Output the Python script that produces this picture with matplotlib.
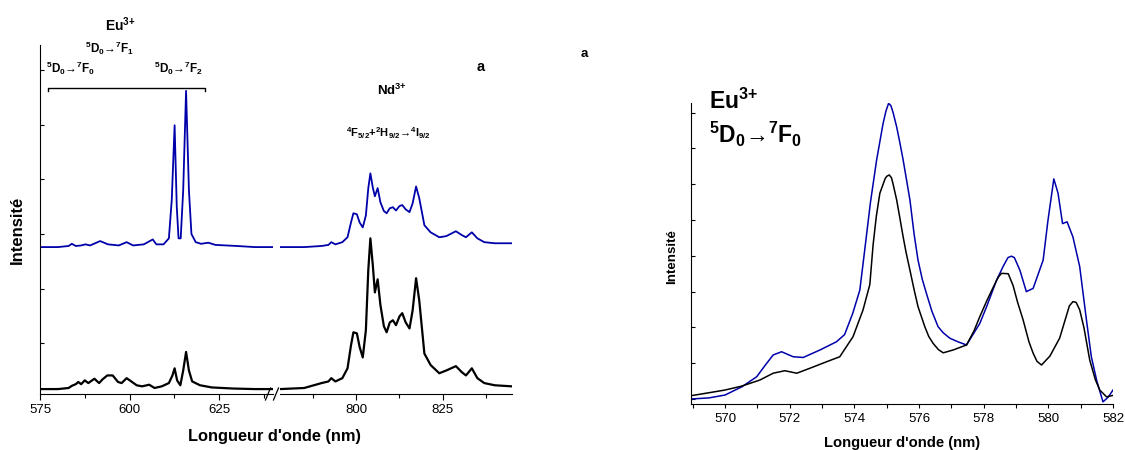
import numpy as np
import matplotlib
matplotlib.use("Agg")
import matplotlib.pyplot as plt
from matplotlib.ticker import MultipleLocator, NullFormatter

plt.rcParams['font.family'] = ['Liberation Sans', 'DejaVu Sans']
plt.rcParams['mathtext.default'] = 'regular'

BLUE = '#0000aa'

# --- panel 1: Eu region (575-640 nm) ---
eu_wl = [575, 580, 583, 583.9, 585, 585.7, 586.5, 587.5, 588.5, 590.2, 591.5, 592.5,
         593.8, 595.3, 596.8, 597.8, 599.2, 600.5, 602, 603.5, 605.5, 607, 609, 611,
         612, 612.6, 613.3, 614.2, 615, 615.8, 616.6, 617.5, 619.7, 623, 629, 635, 640]
eu_black = [0.16, 0.16, 0.18, 0.22, 0.25, 0.29, 0.25, 0.32, 0.27, 0.35, 0.27, 0.34,
            0.41, 0.41, 0.29, 0.27, 0.36, 0.30, 0.23, 0.21, 0.24, 0.18, 0.21, 0.27,
            0.41, 0.54, 0.32, 0.23, 0.50, 0.84, 0.50, 0.30, 0.23, 0.19, 0.17, 0.16, 0.16]

eu_wl_b = [575, 580, 583, 583.9, 585, 586.5, 587.7, 589, 591.8, 594, 597, 599.2, 601,
           604, 606.5, 607.5, 609.5, 611, 611.8, 612.6, 613.2, 613.7, 614.3, 615.0,
           615.8, 616.6, 617.3, 618.5, 620, 622, 624, 627, 630, 635, 640]
eu_blue = [2.76, 2.76, 2.78, 2.82, 2.78, 2.79, 2.81, 2.79, 2.87, 2.81, 2.79, 2.85, 2.79,
           2.81, 2.90, 2.81, 2.81, 2.92, 3.62, 4.99, 3.50, 2.92, 2.92, 3.80,
           5.62, 3.80, 3.00, 2.85, 2.82, 2.84, 2.80, 2.79, 2.78, 2.76, 2.76]

# --- panel 1: Nd region (778-845 nm) ---
nd_wl = [778, 785, 790, 792, 792.8, 794, 796, 797.5, 798.5, 799.2, 800.2, 801, 801.9,
         802.8, 803.5, 804.1, 804.8, 805.4, 806.2, 807, 808, 808.8, 809.7, 810.6,
         811.5, 812.5, 813.3, 814.3, 815.4, 816.3, 817.3, 818.2, 819.7, 821.5, 824,
         826, 828.8, 830.5, 831.7, 833.4, 835, 837, 840, 845]
nd_black = [0.16, 0.18, 0.27, 0.30, 0.36, 0.30, 0.36, 0.54, 0.96, 1.20, 1.18, 0.93, 0.74,
            1.24, 2.34, 2.92, 2.43, 1.93, 2.17, 1.70, 1.31, 1.20, 1.38, 1.42,
            1.33, 1.49, 1.55, 1.38, 1.27, 1.60, 2.19, 1.79, 0.81, 0.60, 0.45,
            0.50, 0.58, 0.47, 0.41, 0.54, 0.36, 0.27, 0.23, 0.21]
nd_blue = [2.76, 2.76, 2.78, 2.80, 2.85, 2.81, 2.85, 2.94, 3.21, 3.38, 3.36, 3.21, 3.12,
           3.34, 3.84, 4.11, 3.85, 3.69, 3.84, 3.58, 3.42, 3.38, 3.47, 3.49,
           3.43, 3.51, 3.53, 3.45, 3.40, 3.56, 3.87, 3.66, 3.16, 3.03, 2.94,
           2.96, 3.05, 2.98, 2.94, 3.03, 2.92, 2.85, 2.83, 2.83]

# --- panel 2: 5D0 -> 7F0 zoom ---
z_wl_b = [568.94, 569.5, 570.0, 570.52, 570.98, 571.25, 571.49, 571.75, 572.11, 572.42,
          572.94, 573.45, 573.7, 573.95, 574.17, 574.3, 574.5, 574.69, 574.89, 574.98,
          575.06, 575.13, 575.2, 575.31, 575.4, 575.51, 575.6, 575.72, 575.85, 575.97,
          576.1, 576.23, 576.4, 576.59, 576.75, 576.95, 577.2, 577.47, 577.88, 578.1,
          578.4, 578.6, 578.75, 578.86, 578.95, 579.12, 579.32, 579.53, 579.84, 579.99,
          580.17, 580.3, 580.44, 580.58, 580.76, 580.97, 581.18, 581.33, 581.5, 581.69,
          581.85, 582.0]
z_blue = [0.0, 0.03, 0.11, 0.34, 0.62, 0.95, 1.23, 1.32, 1.18, 1.16,
          1.37, 1.6, 1.8, 2.39, 3.04, 4.0, 5.5, 6.68, 7.7, 8.05,
          8.26, 8.2, 8.0, 7.6, 7.2, 6.68, 6.2, 5.56, 4.6, 3.88,
          3.35, 2.95, 2.45, 2.02, 1.85, 1.7, 1.6, 1.51, 2.11, 2.6,
          3.32, 3.7, 3.95, 3.99, 3.95, 3.6, 3.0, 3.09, 3.88, 5.0,
          6.15, 5.75, 4.9, 4.95, 4.53, 3.7, 2.2, 1.18, 0.5, -0.08,
          0.05, 0.25]
z_wl_k = [568.94, 569.54, 570.0, 570.52, 571.08, 571.49, 571.85, 572.22, 572.63, 573.14,
          573.55, 573.96, 574.27, 574.48, 574.58, 574.68, 574.79, 574.95, 575.0, 575.08,
          575.15, 575.2, 575.31, 575.4, 575.51, 575.6, 575.72, 575.85, 575.97, 576.18,
          576.3, 576.44, 576.6, 576.75, 577.06, 577.47, 577.7, 577.88, 578.1, 578.3,
          578.45, 578.55, 578.76, 578.91, 579.05, 579.22, 579.4, 579.53, 579.65, 579.79,
          580.05, 580.2, 580.35, 580.55, 580.65, 580.76, 580.86, 580.97, 581.1, 581.28,
          581.45, 581.59, 581.8, 582.0]
z_black = [0.09, 0.18, 0.25, 0.36, 0.53, 0.72, 0.79, 0.72, 0.86, 1.04,
           1.18, 1.74, 2.49, 3.2, 4.3, 5.1, 5.75, 6.15, 6.22, 6.26,
           6.18, 6.0, 5.56, 5.1, 4.53, 4.1, 3.6, 3.05, 2.58, 2.02,
           1.75, 1.55, 1.38, 1.29, 1.37, 1.51, 1.9, 2.3, 2.75, 3.13,
           3.4, 3.51, 3.5, 3.17, 2.7, 2.21, 1.6, 1.28, 1.05, 0.95,
           1.2, 1.45, 1.7, 2.3, 2.6, 2.72, 2.7, 2.49, 2.0, 1.09,
           0.55, 0.25, 0.06, 0.1]

fig = plt.figure(figsize=(11.25, 4.5), dpi=100)
W, H = 1125, 450


def px_axes(x0, y0, x1, y1):
    return fig.add_axes([x0 / W, 1 - y1 / H, (x1 - x0) / W, (y1 - y0) / H])


ax1 = px_axes(40, 45, 272.7, 394)
ax2 = px_axes(280, 45, 512, 394)
ax3 = px_axes(690.7, 103, 1113, 404)

ax1.plot(eu_wl, eu_black, color='black', lw=1.6)
ax1.plot(eu_wl_b, eu_blue, color=BLUE, lw=1.3)
ax2.plot(nd_wl, nd_black, color='black', lw=1.6)
ax2.plot(nd_wl, nd_blue, color=BLUE, lw=1.3)
ax3.plot(z_wl_b, z_blue, color=BLUE, lw=1.1)
ax3.plot(z_wl_k, z_black, color='black', lw=1.1)

ax1.set_xlim(575, 640)
ax2.set_xlim(778, 845)
for ax in (ax1, ax2):
    ax.set_ylim(0.07, 6.46)
    ax.xaxis.set_major_locator(MultipleLocator(25))
    ax.xaxis.set_minor_locator(MultipleLocator(12.5))
    ax.spines['top'].set_visible(False)
    ax.spines['right'].set_visible(False)
    ax.tick_params(axis='x', which='both', direction='out', labelsize=9.5, width=0.8)
    ax.tick_params(axis='x', which='major', length=4)
    ax.tick_params(axis='x', which='minor', length=3)
ax1.yaxis.set_major_locator(MultipleLocator(1))
ax1.yaxis.set_major_formatter(NullFormatter())
ax1.tick_params(axis='y', direction='in', length=3, width=0.8)
ax2.spines['left'].set_visible(False)
ax2.set_yticks([])

# break marks on the x axis
for xs in (265.5, 273.5):
    fig.add_artist(plt.Line2D([xs / W, (xs + 5) / W], [1 - 400 / H, 1 - 388 / H],
                              color='black', lw=0.9))

ax3.set_xlim(568.94, 582)
ax3.set_ylim(-0.14, 8.27)
ax3.xaxis.set_major_locator(MultipleLocator(2))
ax3.xaxis.set_minor_locator(MultipleLocator(1))
ax3.yaxis.set_major_locator(MultipleLocator(1))
ax3.yaxis.set_major_formatter(NullFormatter())
ax3.spines['top'].set_visible(False)
ax3.spines['right'].set_visible(False)
ax3.tick_params(axis='x', which='both', direction='out', labelsize=9.5, width=0.8, length=3)
ax3.tick_params(axis='y', direction='in', length=3, width=0.8)

# axis labels
fig.text(17 / W, 1 - 230 / H, 'Intensité', rotation=90, ha='center', va='center',
         fontsize=12, fontweight='bold')
fig.text(274 / W, 1 - 437 / H, "Longueur d'onde (nm)", ha='center', va='center',
         fontsize=11.8, fontweight='bold')
fig.text(672 / W, 1 - 257 / H, 'Intensité', rotation=90, ha='center', va='center',
         fontsize=9.6, fontweight='bold')
fig.text(902 / W, 1 - 443 / H, "Longueur d'onde (nm)", ha='center', va='center',
         fontsize=10.6, fontweight='bold')

ARROW = '→'

# Eu annotations, left panel
fig.text(120 / W, 1 - 25 / H, r'Eu$^{3{+}}$', ha='center', va='center',
         fontsize=10, fontweight='bold')
fig.text(110 / W, 1 - 48 / H, r'$^{5}$D$_{0}$' + ARROW + r'$^{7}$F$_{1}$', ha='center',
         va='center', fontsize=8.5, fontweight='bold')
fig.text(70 / W, 1 - 68 / H, r'$^{5}$D$_{0}$' + ARROW + r'$^{7}$F$_{0}$', ha='center',
         va='center', fontsize=8.5, fontweight='bold')
fig.text(178 / W, 1 - 68 / H, r'$^{5}$D$_{0}$' + ARROW + r'$^{7}$F$_{2}$', ha='center',
         va='center', fontsize=8.5, fontweight='bold')
ax1.plot([577.2, 577.2, 621.1, 621.1], [5.62, 5.67, 5.67, 5.62], color='black',
         lw=1.0, clip_on=False)

fig.text(392 / W, 1 - 90 / H, r'Nd$^{3{+}}$', ha='center', va='center',
         fontsize=9.5, fontweight='bold')
fig.text(388 / W, 1 - 133 / H,
         r'$^{4}$F$_{5/2}$+$^{2}$H$_{9/2}$' + ARROW + r'$^{4}$I$_{9/2}$',
         ha='center', va='center', fontsize=8, fontweight='bold')
fig.text(481 / W, 1 - 67 / H, 'a', ha='center', va='center', fontsize=10.5, fontweight='bold')
fig.text(584 / W, 1 - 54 / H, 'a', ha='center', va='center', fontsize=9.5, fontweight='bold')

# right panel title
fig.text(709 / W, 1 - 101 / H, r'Eu$^{3{+}}$', ha='left', va='center',
         fontsize=16.5, fontweight='bold')
fig.text(709 / W, 1 - 134 / H, r'$^{5}$D$_{0}$' + ARROW + r'$^{7}$F$_{0}$', ha='left',
         va='center', fontsize=16.5, fontweight='bold')

fig.savefig('out.png', dpi=100)
